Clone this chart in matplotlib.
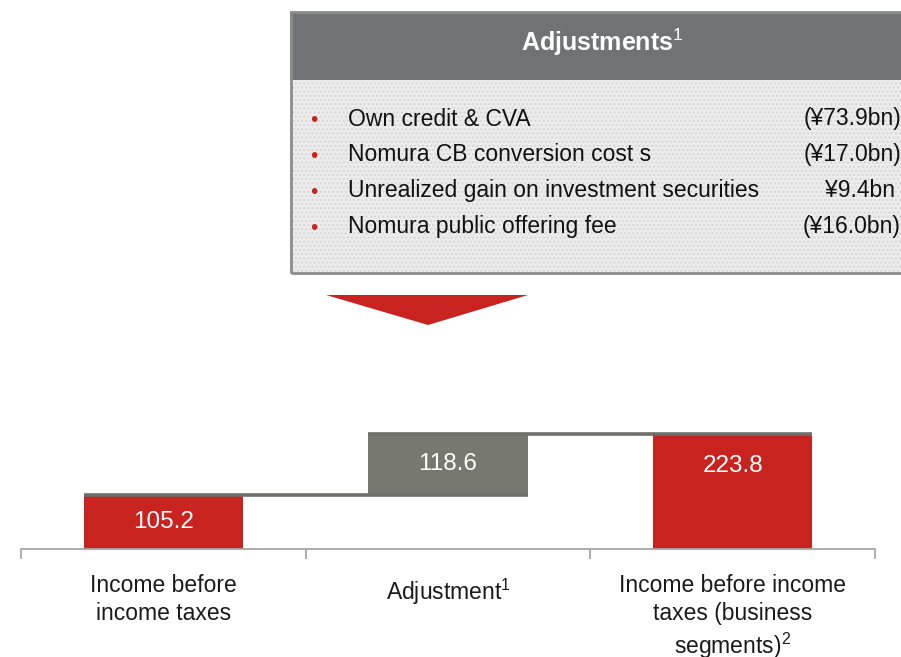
import numpy as np
import matplotlib.pyplot as plt
from matplotlib.patches import Rectangle, Polygon

plt.rcParams['font.family'] = ['Liberation Sans', 'DejaVu Sans']
plt.rcParams['mathtext.fontset'] = 'custom'
plt.rcParams['mathtext.rm'] = 'Liberation Sans'
plt.rcParams['mathtext.it'] = 'Liberation Sans'
plt.rcParams['mathtext.bf'] = 'Liberation Sans:bold'

# Waterfall data (¥bn)
categories = ["Income before\nincome taxes", r"Adjustment$^{\mathrm{1}}$",
              "Income before income\ntaxes (business\n" + r"segments)$^{\mathrm{2}}$"]
values = [105.2, 118.6, 223.8]
bar_kinds = ["total", "delta", "total"]

# Adjustment breakdown shown in the box
adj_items = ["Own credit & CVA", "Nomura CB conversion cost s",
             "Unrealized gain on investment securities", "Nomura public offering fee"]
adj_values = [-73.9, -17.0, 9.4, -16.0]

RED = "#c8231f"
GREY = "#777870"
LINE = "#6e6f6b"
TXT = "#111111"

W, H = 901, 657
PX_PER_UNIT = 0.514
fig = plt.figure(figsize=(W / 100, H / 100), dpi=100)


def fx(px):
    return px / W


def fy(py):
    return 1 - py / H


# ---- bar chart (baseline at y=549px, ticks 21..875px)
ax = fig.add_axes([fx(21), fy(549), fx(875) - fx(21), 250 * PX_PER_UNIT / H])
x = np.arange(len(values)) + 0.5
bw = 0.56
bottoms = []
run = 0.0
for v, k in zip(values, bar_kinds):
    if k == "delta":
        bottoms.append(run)
        run += v
    else:
        bottoms.append(0.0)
        run = v
colors = [RED if k == "total" else GREY for k in bar_kinds]
ax.bar(x, values, bottom=bottoms, width=bw, color=colors, zorder=2)

# connectors between steps
for i in range(len(values) - 1):
    level = bottoms[i + 1] if bar_kinds[i + 1] == "delta" else bottoms[i] + values[i]
    ax.plot([x[i] - bw / 2, x[i + 1] + bw / 2], [level, level],
            color=LINE, lw=2.6, zorder=3, solid_capstyle="butt")

# value labels: centred, but no deeper than ~32px below the bar top
for xi, b, v in zip(x, bottoms, values):
    top = b + v
    ly = top - min(v / 2, 32 / PX_PER_UNIT)
    ax.text(xi, ly, f"{v:.1f}", ha="center", va="center", color="white", fontsize=17.5)

ax.set_xlim(0, 3)
ax.set_ylim(0, 250)
ax.set_xticks([0, 1, 2, 3])
ax.set_xticklabels([])
ax.tick_params(axis="x", direction="out", length=7, width=1.3, color="#a6a6a6")
ax.set_yticks([])
for s in ["left", "right", "top"]:
    ax.spines[s].set_visible(False)
ax.spines["bottom"].set_color("#a6a6a6")
ax.spines["bottom"].set_linewidth(1.3)
ax.patch.set_alpha(0)

label_tops = [574, 577, 574]
for xi, lab, yt in zip(x, categories, label_tops):
    fig.text(fx(21 + xi * 284.7), fy(yt), lab, ha="center", va="top",
             fontsize=16.5, linespacing=1.27, color="#1a1a1a")

# ---- adjustments box
body = Rectangle((fx(290), fy(273)), fx(905) - fx(290), fy(80) - fy(273),
                 transform=fig.transFigure, facecolor="#ececec", edgecolor="#d6d6d6",
                 hatch="....", lw=0)
fig.patches.append(body)
head = Rectangle((fx(290), fy(80)), fx(905) - fx(290), fy(12) - fy(80),
                 transform=fig.transFigure, facecolor="#707274", lw=0)
fig.patches.append(head)
frame = Rectangle((fx(291), fy(273)), fx(905) - fx(291), fy(12) - fy(273),
                  transform=fig.transFigure, facecolor="none", edgecolor="#8c8c8c", lw=2)
fig.patches.append(frame)

fig.text(fx(602), fy(42), r"Adjustments$^{\mathrm{1}}$", ha="center", va="center",
         color="white", fontsize=18, fontweight="bold")

row_y = [119, 155, 191, 227]
for yy, item, val in zip(row_y, adj_items, adj_values):
    fig.text(fx(314), fy(yy + 2), "•", ha="center", va="center", color=RED, fontsize=15)
    fig.text(fx(348), fy(yy), item, ha="left", va="center", fontsize=16.5, color=TXT)
    if val < 0:
        fig.text(fx(901), fy(yy), f"(¥{-val:.1f}bn)", ha="right", va="center",
                 fontsize=16.5, color=TXT)
    else:
        fig.text(fx(895), fy(yy), f"¥{val:.1f}bn", ha="right", va="center",
                 fontsize=16.5, color=TXT)

# ---- down arrow
tri = Polygon([(fx(326), fy(295)), (fx(528), fy(295)), (fx(428), fy(325))],
              closed=True, transform=fig.transFigure, facecolor=RED, lw=0)
fig.patches.append(tri)

plt.savefig("out.png", dpi=100)
